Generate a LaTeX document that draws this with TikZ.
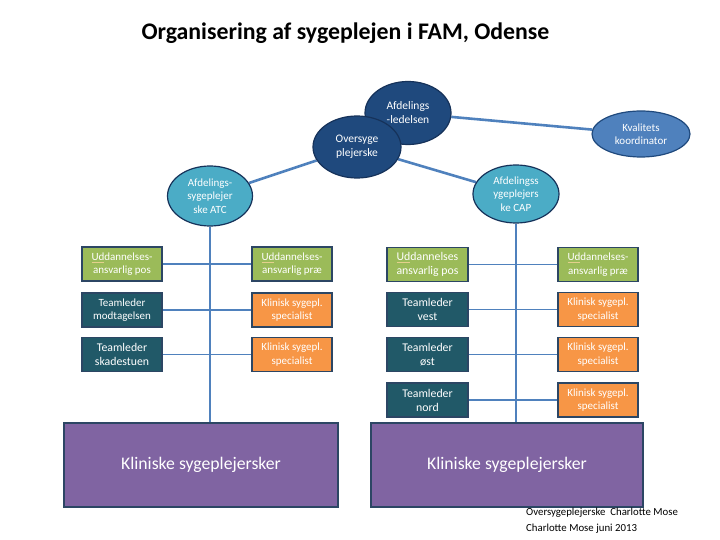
\documentclass[tikz,border=0pt]{standalone}
\usepackage{fontspec}
\setmainfont{Carlito}
\usetikzlibrary{shapes.geometric}
\pgfdeclarelayer{background}
\pgfsetlayers{background,main}
\definecolor{navy}{RGB}{31,73,125}
\definecolor{navyborder}{RGB}{22,50,90}
\definecolor{kvblue}{RGB}{79,129,189}
\definecolor{lightblue}{RGB}{75,172,198}
\definecolor{linkblue}{RGB}{79,129,189}
\definecolor{greenbox}{RGB}{155,187,89}
\definecolor{tealbox}{RGB}{33,89,104}
\definecolor{orangebox}{RGB}{247,150,70}
\definecolor{purplebox}{RGB}{128,100,162}
\definecolor{boxborder}{RGB}{44,70,100}
\definecolor{squig}{RGB}{228,208,140}
\tikzset{
  ell/.style={ellipse, draw=navyborder, line width=1.2pt, text=white, align=center, inner sep=0pt, font=\fontsize{11}{13.3}\selectfont},
  darkell/.style={ell, fill=navy, font=\fontsize{11.5}{14}\selectfont},
  lightell/.style={ell, fill=lightblue},
  kvell/.style={ell, fill=kvblue, draw=navy},
  box/.style={rectangle, draw=boxborder, line width=1.2pt, text=white, align=center, minimum width=80pt, minimum height=34pt, inner sep=0pt, font=\fontsize{11}{13.3}\selectfont},
  bigtxt/.style={font=\fontsize{11.8}{14}\selectfont},
  gbox/.style={box, fill=greenbox},
  tbox/.style={box, fill=tealbox},
  obox/.style={box, fill=orangebox},
  pbox/.style={rectangle, draw=boxborder, line width=1.2pt, fill=purplebox, text=white, minimum height=84pt, font=\fontsize{17.7}{20}\selectfont},
  link/.style={draw=linkblue, line width=2.6pt},
  hlink/.style={draw=linkblue, line width=1.6pt}
}
\newcommand{\Ud}{\textcolor{squig}{\underline{\textcolor{white}{Ud}}}}
\begin{document}
\begin{tikzpicture}[x=1pt,y=-1pt]
\useasboundingbox (0,0) rectangle (720,540);
\node[font=\bfseries\fontsize{23.8}{26}\selectfont] (title) at (345.5,33) {Organisering af sygeplejen i FAM, Odense};

\node[darkell, minimum width=86pt, minimum height=63pt] (led) at (408,113) {Afdelings\\-ledelsen};
\node[darkell, minimum width=88pt, minimum height=62pt] (over) at (357,147) {Oversyge\\plejerske};
\node[kvell, minimum width=98pt, minimum height=46pt] (kv) at (641,134) {Kvalitets\\koordinator};
\node[lightell, minimum width=85pt, minimum height=60pt] (atc) at (210,196) {Afdelings-\\sygeplejer\\ske ATC};
\node[lightell, minimum width=86pt, minimum height=58pt] (cap) at (516,194) {Afdelingss\\ygeplejers\\ke CAP};

% ATC side
\node[gbox] (a1) at (122,264) {\Ud dannelses-\\ansvarlig pos};
\node[gbox] (a2) at (292,264) {\Ud dannelses-\\ansvarlig pr\ae};
\node[tbox] (b1) at (122,310) {Teamleder\\modtagelsen};
\node[obox] (b2) at (292,310) {Klinisk sygepl.\\specialist};
\node[tbox, bigtxt] (c1) at (122,354.5) {Teamleder\\skadestuen};
\node[obox] (c2) at (292,354.5) {Klinisk sygepl.\\specialist};

% CAP side
\node[gbox, minimum width=81pt, bigtxt] (d1) at (427.5,264.5) {\Ud dannelses\\ansvarlig pos};
\node[gbox] (d2) at (598,264.5) {\Ud dannelses-\\ansvarlig pr\ae};
\node[tbox, minimum width=81pt, bigtxt] (e1) at (427.5,309.5) {Teamleder\\vest};
\node[obox] (e2) at (598,309.5) {Klinisk sygepl.\\specialist};
\node[tbox, minimum width=81pt, bigtxt] (f1) at (427.5,354.5) {Teamleder\\\o st};
\node[obox] (f2) at (598,354.5) {Klinisk sygepl.\\specialist};
\node[tbox, minimum width=81pt, bigtxt] (g1) at (427.5,400) {Teamleder\\nord};
\node[obox] (g2) at (598,400) {Klinisk sygepl.\\specialist};

\node[pbox, minimum width=274pt] (k1) at (201,465) {Kliniske sygeplejersker};
\node[pbox, minimum width=272pt] (k2) at (507,465) {Kliniske sygeplejersker};

\node[anchor=north west, align=left, inner sep=0pt, font=\fontsize{10.8}{15.5}\selectfont] (foot) at (526,508) {Oversygeplejerske\ \ Charlotte Mose\\Charlotte Mose juni 2013};

\begin{pgfonlayer}{background}
\draw[link] (led) -- (kv);
\draw[link] (over) -- (atc);
\draw[link] (over) -- (cap);
\draw[link] (atc.south) -- (atc.south |- k1.north);
\draw[link] (cap.south) -- (cap.south |- k2.north);
\foreach \l/\r in {a1/a2,b1/b2,c1/c2,d1/d2,e1/e2,f1/f2,g1/g2}{
  \draw[hlink] (\l.east) -- (\r.west);
}
\end{pgfonlayer}
\end{tikzpicture}
\end{document}
